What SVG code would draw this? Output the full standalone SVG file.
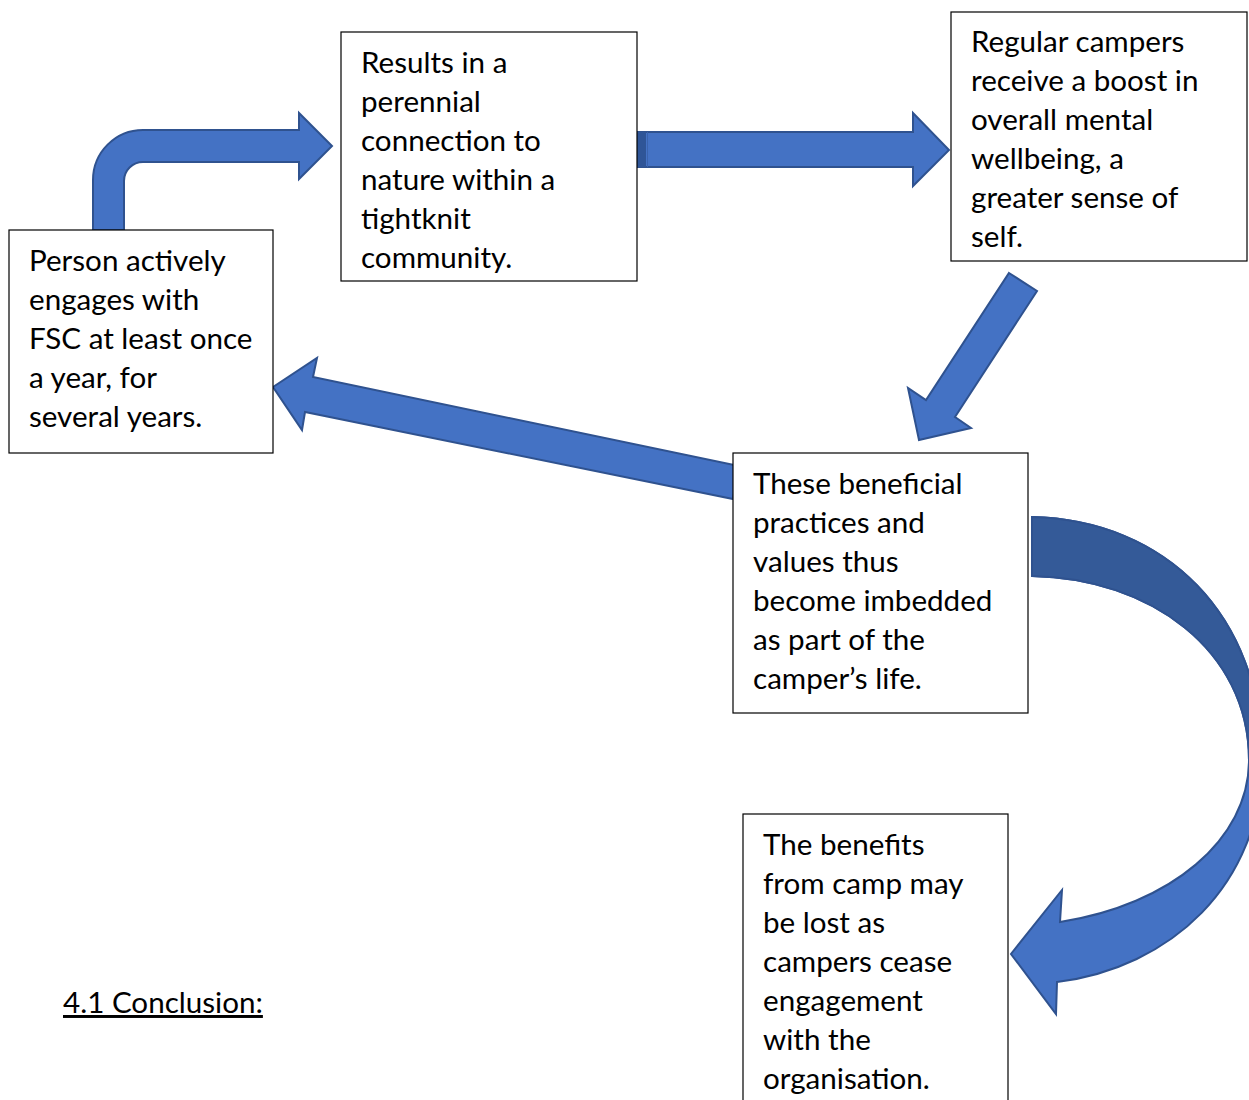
<svg xmlns="http://www.w3.org/2000/svg" width="1249" height="1100" viewBox="0 0 1249 1100">
<style>
.box{fill:#fff;stroke:#000;stroke-width:1.2}
.t{font-family:Lato,"Open Sans","Liberation Sans",sans-serif;font-size:29.6px;fill:#000}
.arr{fill:#4472c4;stroke:#2f528f;stroke-width:2;stroke-linejoin:miter}
</style>
<rect width="1249" height="1100" fill="#fff"/>
<g id="connectors">
<path class="arr" d="M93 230 L93 180 A50 50 0 0 1 143 130 L299 130 L299 113 L332 146 L299 179 L299 162 L143 162 A19 19 0 0 0 124 181 L124 230 Z"/>
<path class="arr" d="M637 132 L913 132 L913 113 L949 150 L913 186 L913 167 L637 167 Z"/>
<rect x="637" y="132" width="9" height="35" fill="#2f5597"/>
<line x1="647.5" y1="132" x2="647.5" y2="167" stroke="#3a63ad" stroke-width="1"/>
<path class="arr" d="M1009 273 L1037 291 L955 417 L971 428 L919 440 L908 388 L926 400 Z"/>
<path class="arr" d="M273 387 L317 358 L313 377 L739 466 L733 499 L305 412 L302 430 Z"/>
<path class="arr" d="M1032 517 C1165 520 1262 615 1262 760 C1262 885 1170 968 1057 982 L1056 1014 L1011 954 L1062 890 L1060 922 C1170 905 1249 840 1249 760 C1249 650 1150 578 1032 576 Z"/>
<path d="M1032 517 C1165 520 1262 615 1262 760 L1249 760 C1249 650 1150 578 1032 576 Z" fill="#345a98" stroke="#2f528f" stroke-width="2"/>
</g>
<g id="node1">
<rect class="box" x="9" y="230" width="264" height="223"/>
<text class="t" x="29" y="271">Person actively</text>
<text class="t" x="29" y="310">engages with</text>
<text class="t" x="29" y="349">FSC at least once</text>
<text class="t" x="29" y="388">a year, for</text>
<text class="t" x="29" y="427">several years.</text>
</g>
<g id="node2">
<rect class="box" x="341" y="32" width="296" height="249"/>
<text class="t" x="361" y="73">Results in a</text>
<text class="t" x="361" y="112">perennial</text>
<text class="t" x="361" y="151">connection to</text>
<text class="t" x="361" y="190">nature within a</text>
<text class="t" x="361" y="229">tightknit</text>
<text class="t" x="361" y="268">community.</text>
</g>
<g id="node3">
<rect class="box" x="951" y="12" width="296" height="249"/>
<text class="t" x="971" y="52">Regular campers</text>
<text class="t" x="971" y="91">receive a boost in</text>
<text class="t" x="971" y="130">overall mental</text>
<text class="t" x="971" y="169">wellbeing, a</text>
<text class="t" x="971" y="208">greater sense of</text>
<text class="t" x="971" y="247">self.</text>
</g>
<g id="node4">
<rect class="box" x="733" y="453" width="295" height="260"/>
<text class="t" x="753" y="494">These beneficial</text>
<text class="t" x="753" y="533">practices and</text>
<text class="t" x="753" y="572">values thus</text>
<text class="t" x="753" y="611">become imbedded</text>
<text class="t" x="753" y="650">as part of the</text>
<text class="t" x="753" y="689">camper’s life.</text>
</g>
<g id="node5">
<rect class="box" x="743" y="814" width="265" height="300"/>
<text class="t" x="763" y="855">The benefits</text>
<text class="t" x="763" y="894">from camp may</text>
<text class="t" x="763" y="933">be lost as</text>
<text class="t" x="763" y="972">campers cease</text>
<text class="t" x="763" y="1011">engagement</text>
<text class="t" x="763" y="1050">with the</text>
<text class="t" x="763" y="1089">organisation.</text>
</g>
<g id="heading">
<text class="t" x="63" y="1013" text-decoration="underline">4.1 Conclusion:</text>
</g>
</svg>
